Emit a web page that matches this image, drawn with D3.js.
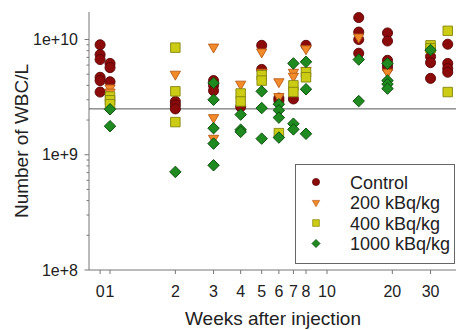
<!DOCTYPE html>
<html>
<head>
<meta charset="utf-8">
<script src="https://cdn.jsdelivr.net/npm/d3@7"></script>
<style>
    body { margin: 0; background: white; }
    svg { display: block; font-family: "Liberation Sans", Arial, sans-serif; }
</style>
</head>
<body>
<svg id="wbc" width="456" height="330"></svg>
<script>
// [week, WBC per litre]; week 0 is the pre-injection baseline
const control = [
    [0, 9.0e9], [0, 7.4e9], [0, 6.7e9], [0, 4.7e9], [0, 4.4e9], [0, 3.5e9],
    [1, 6.2e9], [1, 5.7e9], [1, 4.3e9],
    [2, 2.9e9], [2, 2.7e9], [2, 2.5e9],
    [3, 4.4e9], [3, 4.0e9], [3, 3.6e9],
    [4, 2.6e9],
    [5, 8.9e9], [5, 5.5e9],
    [6, 3.1e9], [6, 2.95e9],
    [7, 3.05e9],
    [8, 8.9e9],
    [14, 1.55e10], [14, 1.16e10], [14, 1.0e10], [14, 7.6e9],
    [19, 1.14e10], [19, 9.7e9], [19, 6.6e9], [19, 6.0e9], [19, 5.6e9],
    [30, 7.1e9], [30, 6.3e9], [30, 4.6e9],
    [36, 9.1e9], [36, 6.2e9], [36, 5.6e9], [36, 5.2e9]
];
const dose200 = [
    [1, 3.8e9], [1, 3.5e9],
    [2, 5.0e9],
    [3, 8.6e9], [3, 2.1e9], [3, 1.39e9],
    [4, 4.1e9],
    [5, 7.8e9], [5, 5.2e9],
    [6, 4.3e9], [6, 3.2e9],
    [7, 5.2e9], [7, 4.8e9],
    [8, 8.3e9], [8, 5.4e9],
    [14, 1.05e10],
    [19, 5.2e9]
];
const dose400 = [
    [1, 3.2e9], [1, 2.97e9], [1, 2.74e9],
    [2, 8.5e9], [2, 3.55e9], [2, 1.92e9],
    [4, 3.4e9], [4, 2.9e9],
    [5, 4.9e9], [5, 4.4e9],
    [6, 1.54e9],
    [7, 4.0e9], [7, 3.5e9],
    [8, 5.2e9], [8, 4.7e9],
    [30, 8.9e9], [30, 8.4e9],
    [36, 1.19e10], [36, 3.5e9]
];
const dose1000 = [
    [1, 2.48e9], [1, 1.77e9],
    [2, 7.1e8],
    [3, 4.2e9], [3, 3.0e9], [3, 1.70e9], [3, 1.25e9], [3, 8.1e8],
    [4, 2.23e9], [4, 1.65e9], [4, 1.58e9],
    [5, 3.55e9], [5, 2.54e9], [5, 1.38e9],
    [6, 2.74e9], [6, 2.43e9], [6, 2.1e9], [6, 1.41e9],
    [7, 6.2e9], [7, 1.86e9], [7, 1.66e9],
    [8, 6.4e9], [8, 3.7e9], [8, 1.52e9],
    [14, 6.7e9], [14, 2.92e9],
    [19, 6.2e9], [19, 4.4e9], [19, 4.1e9], [19, 3.75e9],
    [30, 8.1e9]
];

const seriesNames = ["Control", "200 kBq/kg", "400 kBq/kg", "1000 kBq/kg"];
const xTickValues = [0, 1, 2, 3, 4, 5, 6, 7, 8, 10, 20, 30];
const yTickValues = [1e8, 1e9, 1e10];
const yTickLabels = ["1e+8", "1e+9", "1e+10"];
const refLevel = 2.5e9;

const svg = d3.select('#wbc');

// log scale can't show 0, so week 0 sits just left of week 1
const weekPos = w => w === 0 ? 0.9 : w;

const xScale = d3.scaleLog()
    .domain([0.8, 39.3])
    .range([89, 456]);

const yScale = d3.scaleLog()
    .domain([1e8, Math.pow(10, 10.2386)])
    .range([270, 12]);

const axisColor = '#777';

// y axis with minor ticks
const minorY = [];
[1e8, 1e9].forEach(dec => d3.range(2, 10).forEach(k => minorY.push(dec * k)));

const yAxisG = svg.append('g').attr('transform', 'translate(89,0)');
yAxisG.append('line')
    .attr('y1', yScale.range()[1]).attr('y2', yScale.range()[0])
    .attr('stroke', axisColor);
yAxisG.selectAll('.minor').data(minorY)
    .enter().append('line')
    .attr('x1', -2.5).attr('x2', 0)
    .attr('y1', d => yScale(d)).attr('y2', d => yScale(d))
    .attr('stroke', axisColor);
yAxisG.selectAll('.major').data(yTickValues)
    .enter().append('line')
    .attr('x1', -4.5).attr('x2', 0)
    .attr('y1', d => yScale(d)).attr('y2', d => yScale(d))
    .attr('stroke', axisColor);
yAxisG.selectAll('text').data(yTickValues)
    .enter().append('text')
    .attr('x', -11)
    .attr('y', d => yScale(d) + 5.5)
    .attr('text-anchor', 'end')
    .attr('font-size', 16)
    .attr('fill', '#222')
    .text((d, i) => yTickLabels[i]);

// x axis
const xAxisG = svg.append('g').attr('transform', 'translate(0,270)');
xAxisG.append('line')
    .attr('x1', xScale.range()[0]).attr('x2', xScale.range()[1])
    .attr('stroke', axisColor);
xAxisG.selectAll('line.tick').data(xTickValues)
    .enter().append('line')
    .attr('class', 'tick')
    .attr('x1', d => xScale(weekPos(d))).attr('x2', d => xScale(weekPos(d)))
    .attr('y1', 0).attr('y2', 4)
    .attr('stroke', axisColor);
xAxisG.selectAll('text').data(xTickValues)
    .enter().append('text')
    .attr('x', d => xScale(weekPos(d)))
    .attr('y', 27)
    .attr('text-anchor', 'middle')
    .attr('font-size', 16)
    .attr('fill', '#222')
    .text(d => d);

svg.append('text')
    .attr('x', 273)
    .attr('y', 325)
    .attr('text-anchor', 'middle')
    .attr('font-size', 19)
    .attr('fill', '#222')
    .text('Weeks after injection');

svg.append('text')
    .attr('transform', 'translate(28,141) rotate(-90)')
    .attr('text-anchor', 'middle')
    .attr('font-size', 19)
    .attr('fill', '#222')
    .text('Number of WBC/L');

// reference level
svg.append('line')
    .attr('x1', xScale.range()[0]).attr('x2', xScale.range()[1])
    .attr('y1', yScale(refLevel)).attr('y2', yScale(refLevel))
    .attr('stroke', '#555');

const styles = [
    { type: d3.symbolCircle, size: 80, rotate: 0, fill: '#8b0a0a', stroke: '#5a0505' },
    { type: d3.symbolTriangle, size: 46, rotate: 180, fill: '#f28a2a', stroke: '#b85e18' },
    { type: d3.symbolSquare, size: 90, rotate: 0, fill: '#cccc14', stroke: '#85850e' },
    { type: d3.symbolSquare, size: 66, rotate: 45, fill: '#1f8a1f', stroke: '#0b4d0b' }
];

const allSeries = [control, dose200, dose400, dose1000];

allSeries.forEach((data, i) => {
    const st = styles[i];
    svg.append('g').selectAll('path').data(data)
        .enter().append('path')
        .attr('d', d3.symbol().type(st.type).size(st.size))
        .attr('transform', d => `translate(${xScale(weekPos(d[0]))},${yScale(d[1])}) rotate(${st.rotate})`)
        .attr('fill', st.fill)
        .attr('stroke', st.stroke)
        .attr('stroke-width', 0.9);
});

// legend
const legend = svg.append('g');
legend.append('rect')
    .attr('x', 295.5).attr('y', 164.5)
    .attr('width', 159).attr('height', 99)
    .attr('fill', 'white')
    .attr('stroke', '#666');

const rows = legend.selectAll('g.row').data(seriesNames)
    .enter().append('g')
    .attr('class', 'row')
    .attr('transform', (d, i) => `translate(316,${182 + i * 20.5})`);

rows.append('path')
    .attr('d', (d, i) => d3.symbol().type(styles[i].type).size(styles[i].size * 0.5)())
    .attr('transform', (d, i) => `rotate(${styles[i].rotate})`)
    .attr('fill', (d, i) => styles[i].fill)
    .attr('stroke', (d, i) => styles[i].stroke)
    .attr('stroke-width', 0.7);

rows.append('text')
    .attr('x', 34)
    .attr('y', 6.5)
    .attr('font-size', 18)
    .attr('fill', '#222')
    .text(d => d);
</script>
</body>
</html>
